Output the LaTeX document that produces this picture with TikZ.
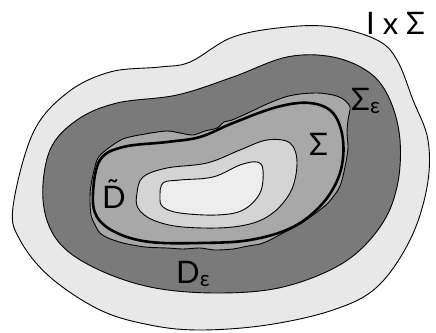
\documentclass[tikz,border=0pt]{standalone}
\usepackage{fontspec}
\setmainfont{Lato}
\begin{document}
\begin{tikzpicture}[x=1pt,y=-1pt,
  region/.style={draw=black, line width=0.9pt},
  lbl/.style={font=\fontsize{31}{34}\selectfont, inner sep=0pt}]
\useasboundingbox (0,0) rectangle (436,332);
% outer light region
\filldraw[region, fill=black!9] plot[smooth cycle, tension=0.6] coordinates {
 (13,207) (33,133) (67,93) (110,72) (160,67) (190,62) (233,37) (287,27) (333,27)
 (377,40) (397,60) (413,100) (428,140) (427,187) (410,240) (377,287) (333,310)
 (267,325) (200,330) (150,325) (100,310) (50,277) (20,240)};
% dark region D_eps
\filldraw[region, fill=black!52] plot[smooth cycle, tension=0.6] coordinates {
 (43,200) (50,150) (77,120) (117,103) (177,95) (233,77) (287,57) (333,57)
 (370,73) (390,100) (400,140) (397,187) (380,227) (343,263) (283,287)
 (217,293) (150,287) (93,267) (57,240)};
% Sigma_eps region (wiggly)
\filldraw[region, fill=black!34] plot[smooth cycle, tension=0.5] coordinates {
 (90,200) (91,185) (97,160) (106,150) (123,139) (145,134) (167,131) (180,133) (193,135)
 (205,131) (217,128) (224,122) (232,120) (250,112) (267,104) (285,97) (300,94)
 (318,93) (333,95) (343,99) (350,107) (348,120) (347,133) (348,147) (346,162)
 (342,180) (338,190) (328,203) (317,212) (300,224) (283,233) (270,240) (260,244)
 (248,246) (233,249) (215,250) (200,248) (183,249) (167,248) (145,247) (123,243)
 (108,238) (100,233) (95,225) (91,215)};
% Sigma (thick)
\draw[line width=2.6pt] plot[smooth cycle, tension=0.6] coordinates {
 (93,193) (100,160) (123,147) (167,142) (200,137) (233,123) (277,107) (310,103)
 (333,113) (343,140) (340,173) (323,203) (293,227) (250,240) (200,243)
 (150,242) (117,233) (97,217)};
% inner light region
\filldraw[region, fill=black!17] plot[smooth cycle, tension=0.6] coordinates {
 (137,193) (143,177) (167,168) (207,163) (240,150) (267,140) (290,143) (297,163)
 (290,193) (267,217) (233,227) (183,227) (153,220) (138,208)};
% innermost region
\filldraw[region, fill=black!7] plot[smooth cycle, tension=0.6] coordinates {
 (160,197) (163,183) (180,180) (213,177) (240,165) (257,162) (263,170) (260,193)
 (243,210) (217,215) (180,213) (163,207)};
% labels
\node[lbl, anchor=base west] (ixs) at (366,34) {I x Σ};
\node[lbl, anchor=base west] (se) at (351,110) {Σ\textsubscript{ε}};
\node[lbl, anchor=base west] (s) at (309,155) {Σ};
\node[lbl, anchor=base west] (dt) at (102,208) {\~{D}};
\node[lbl, anchor=base west] (de) at (176,283) {D\textsubscript{ε}};
\end{tikzpicture}
\end{document}
